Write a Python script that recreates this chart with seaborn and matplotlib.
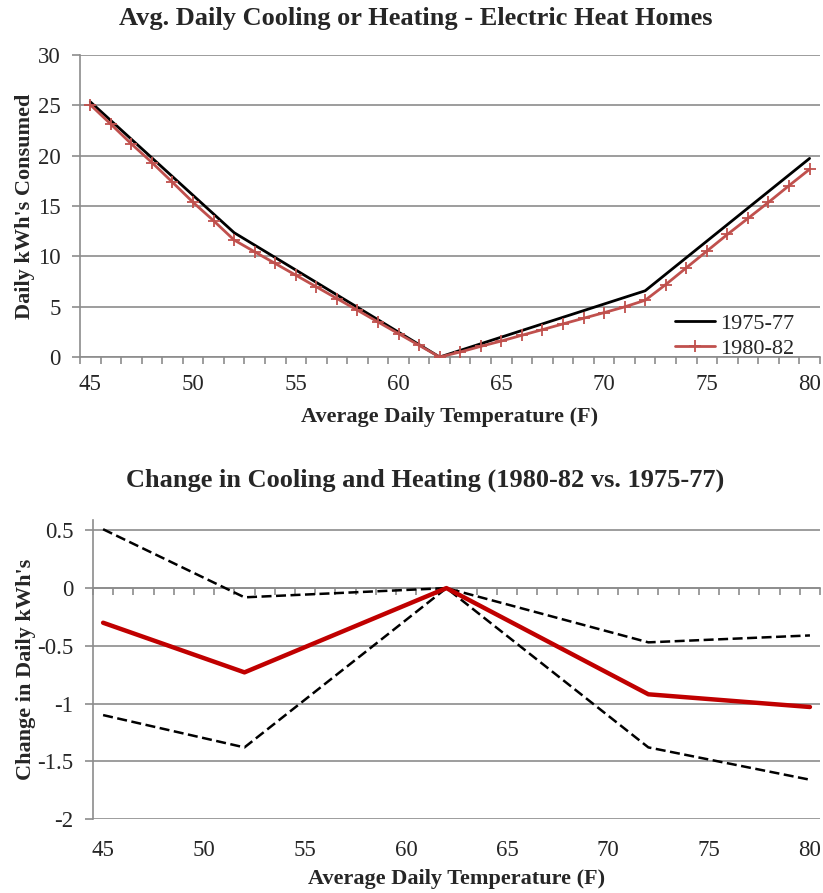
import seaborn as sns
import matplotlib.pyplot as plt
from matplotlib.ticker import FixedLocator

# Values
temps = list(range(45, 81))
kwh_8082 = [25.06, 23.13, 21.17, 19.32, 17.36, 15.37, 13.54, 11.62, 10.45, 9.29,
            8.13, 6.97, 5.81, 4.65, 3.48, 2.32, 1.16, 0.0, 0.50, 1.06,
            1.59, 2.16, 2.72, 3.29, 3.85, 4.41, 4.98, 5.64, 7.20, 8.86,
            10.52, 12.18, 13.77, 15.37, 17.03, 18.65]
break_temps = [45, 52, 62, 72, 80]
kwh_7577 = [25.35, 12.35, 0.0, 6.58, 19.73]
change_mid = [-0.30, -0.73, 0.0, -0.92, -1.03]
change_hi = [0.51, -0.08, 0.0, -0.47, -0.41]
change_lo = [-1.10, -1.38, 0.0, -1.38, -1.66]

x_labels = [45, 50, 55, 60, 65, 70, 75, 80]
cat_edges = [t - 0.5 for t in temps] + [80.5]

sns.set_theme(style="white")
plt.rcParams["font.family"] = ["Liberation Serif", "DejaVu Serif"]

grey = "#8c8c8c"
tick_fs = 16.5
label_fs = 16
title_fs = 19

fig = plt.figure(figsize=(8.23, 8.93), dpi=100)
ax1 = fig.add_axes([0.0972, 0.6002, 0.899, 0.3382])
ax2 = fig.add_axes([0.113, 0.0829, 0.8834, 0.3348])

# ---- top chart
sns.lineplot(x=break_temps, y=kwh_7577, color="black", lw=2, label="1975-77",
             ax=ax1, zorder=3)
sns.lineplot(x=temps, y=kwh_8082, color="#C0504D", lw=2, marker="+",
             markersize=9, markeredgewidth=1.3, markeredgecolor="#C0504D",
             label="1980-82", ax=ax1, zorder=4)

ax1.set_xlim(44.5, 80.5)
ax1.set_ylim(0, 30)
ax1.set_yticks(range(0, 31, 5))
ax1.set_xticks(x_labels)
ax1.xaxis.set_minor_locator(FixedLocator(cat_edges))
ax1.grid(axis="y", color=grey, lw=1.2)
ax1.set_axisbelow(True)
ax1.tick_params(axis="x", which="major", length=0, pad=12, labelsize=tick_fs)
ax1.tick_params(axis="x", which="minor", length=5, width=1.2, color=grey,
                direction="out", bottom=True)
ax1.tick_params(axis="y", length=6, width=1.2, color=grey, direction="out",
                left=True, pad=8, labelsize=tick_fs)
for s in ["top", "right"]:
    ax1.spines[s].set_visible(False)
for s in ["left", "bottom"]:
    ax1.spines[s].set_color(grey)
    ax1.spines[s].set_linewidth(1.2)
ax1.set_xlabel("Average Daily Temperature (F)", fontsize=label_fs,
               fontweight="bold", labelpad=9)
ax1.set_ylabel("Daily kWh's Consumed", fontsize=label_fs, fontweight="bold",
               labelpad=2)
leg = ax1.legend(loc="lower right", bbox_to_anchor=(0.986, -0.058), frameon=False,
                 fontsize=16, handlelength=1.8, handletextpad=0.2,
                 labelspacing=0.2, borderpad=0.2)

# ---- bottom chart
sns.lineplot(x=break_temps, y=change_hi, color="black", lw=1.8, ax=ax2, zorder=3)
sns.lineplot(x=break_temps, y=change_lo, color="black", lw=1.8, ax=ax2, zorder=3)
sns.lineplot(x=break_temps, y=change_mid, color="#C00000", lw=3.2, ax=ax2,
             zorder=4)
for line in ax2.lines[:2]:
    line.set_linestyle((0, (4, 1.8)))

ymin, ymax = -2, 0.59
ax2.set_xlim(44.5, 80.5)
ax2.set_ylim(ymin, ymax)
ax2.set_yticks([-2, -1.5, -1, -0.5, 0, 0.5])
ax2.set_yticklabels(["-2", "-1.5", "-1", "-0.5", "0", "0.5"])
ax2.set_xticks(x_labels)
ax2.grid(axis="y", color=grey, lw=1.2)
ax2.set_axisbelow(True)
ax2.tick_params(axis="x", which="major", length=0, pad=15, labelsize=tick_fs)
ax2.tick_params(axis="y", length=6, width=1.2, color=grey, direction="out",
                left=True, pad=8, labelsize=tick_fs)
for s in ["top", "right", "bottom"]:
    ax2.spines[s].set_visible(False)
ax2.spines["left"].set_color(grey)
ax2.spines["left"].set_linewidth(1.2)

# category axis crossing at zero
zero_frac = (0 - ymin) / (ymax - ymin)
sec = ax2.secondary_xaxis(zero_frac)
sec.set_alignment("bottom")
sec.set_xticks([])
sec.xaxis.set_minor_locator(FixedLocator(cat_edges))
sec.tick_params(which="minor", length=5, width=1.2, color=grey,
                direction="out", bottom=True, labelbottom=False)
sec.spines["bottom"].set_color(grey)
sec.spines["bottom"].set_linewidth(1.2)
sec.set_zorder(2)

ax2.set_xlabel("Average Daily Temperature (F)", fontsize=label_fs,
               fontweight="bold", labelpad=6)
ax2.set_ylabel("Change in Daily kWh's", fontsize=label_fs, fontweight="bold",
               labelpad=1)

fig.text(416 / 823, 1 - 18 / 893, "Avg. Daily Cooling or Heating - Electric Heat Homes",
         ha="center", va="center", fontsize=title_fs, fontweight="bold")
fig.text(425 / 823, 1 - 480 / 893, "Change in Cooling and Heating (1980-82 vs. 1975-77)",
         ha="center", va="center", fontsize=title_fs, fontweight="bold")

fig.savefig("out.png", dpi=100)
